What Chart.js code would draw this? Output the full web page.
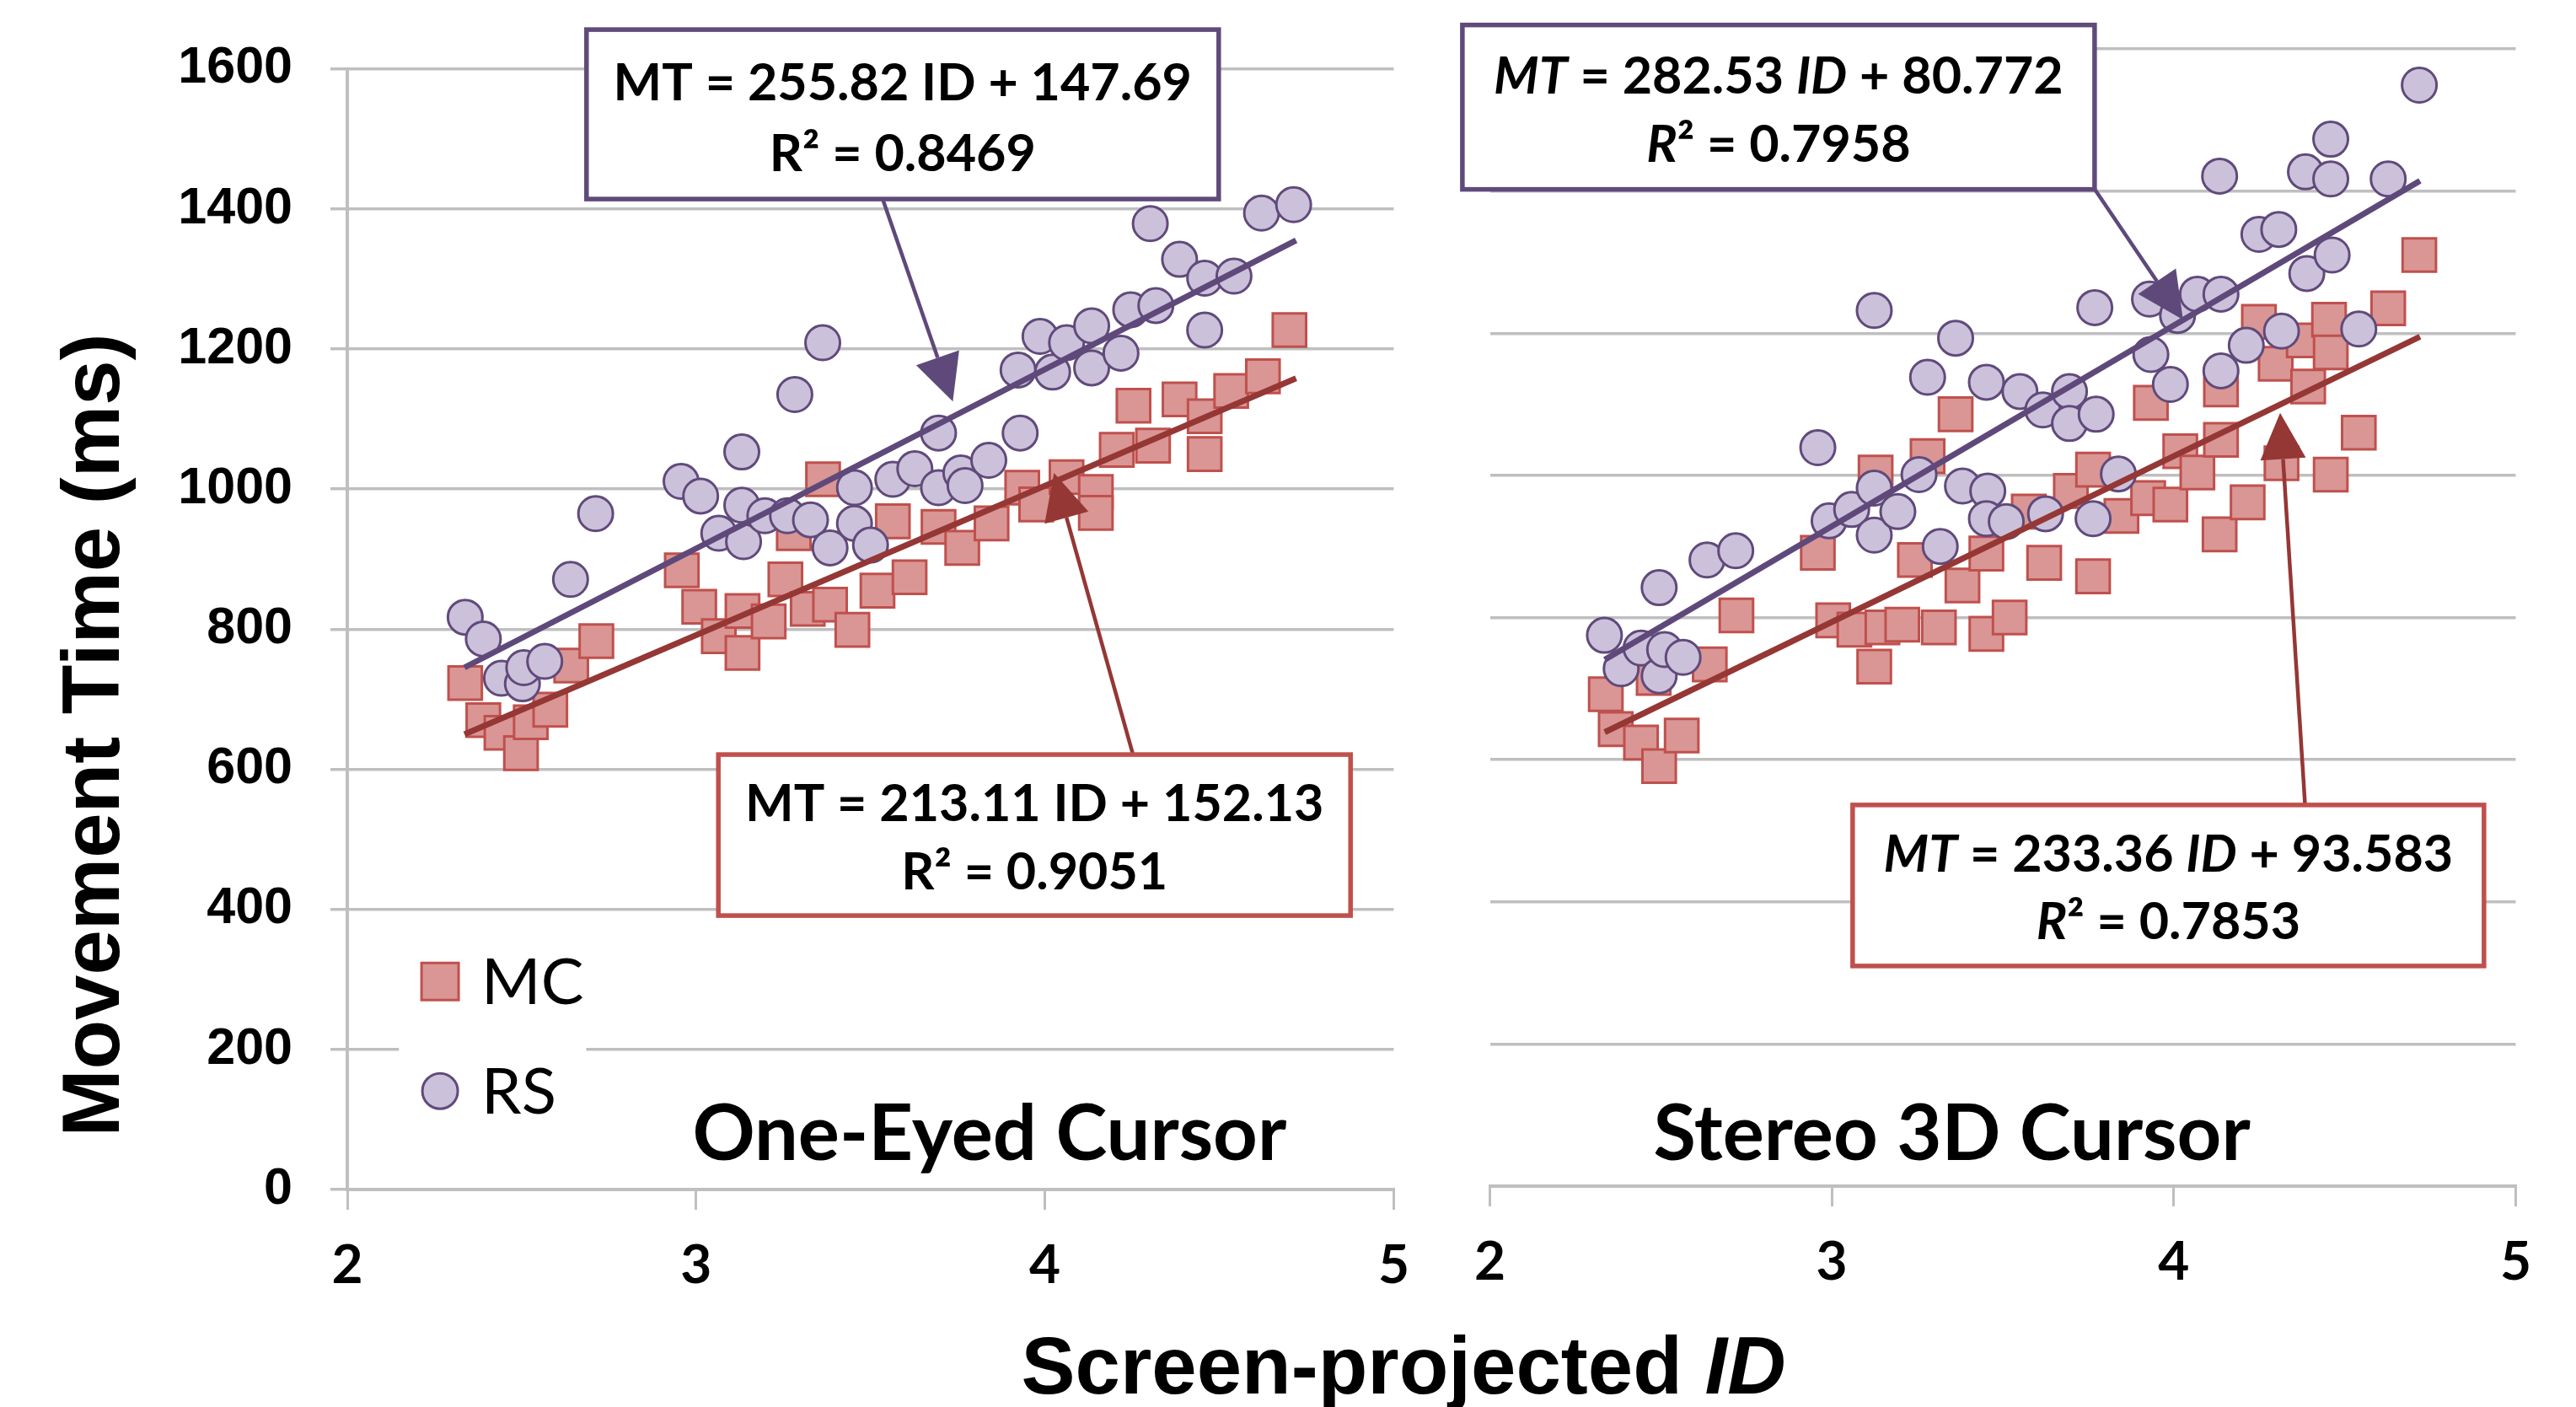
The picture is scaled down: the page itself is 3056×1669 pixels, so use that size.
<!DOCTYPE html>
<html>
<head>
<meta charset="utf-8">
<title>Movement time vs screen-projected ID</title>
<script src="https://cdn.jsdelivr.net/npm/chart.js@4.4.1/dist/chart.umd.min.js"></script>
<style>
    body { margin: 0; background: #fff; }
    #page { position: relative; width: 3056px; height: 1669px; overflow: hidden; background: #fff; }
    canvas { position: absolute; top: 0; }
    #left-chart { left: 0; }
    #right-chart { left: 1700px; }
    .axis-title {
        position: absolute;
        font-family: 'Liberation Sans', Arial, sans-serif;
        font-weight: bold;
        font-size: 96px;
        line-height: 96px;
        color: #000;
        white-space: nowrap;
        text-align: center;
    }
    #y-title { left: 108px; top: 872px; width: 1200px; transform: translate(-50%, -50%) rotate(-90deg); }
    #x-title { left: 665px; top: 1572px; width: 2000px; }
</style>
</head>
<body>
<div id="page">
    <canvas id="left-chart" width="1700" height="1669"></canvas>
    <canvas id="right-chart" width="1356" height="1669"></canvas>
    <div class="axis-title" id="y-title">Movement Time (ms)</div>
    <div class="axis-title" id="x-title">Screen-projected <i>ID</i></div>
</div>
<script>
// tick values
const idTicks = [2, 3, 4, 5];
const mtTicks = [0, 200, 400, 600, 800, 1000, 1200, 1400, 1600];

const panelTitles = ['One-Eyed Cursor', 'Stereo 3D Cursor'];
const seriesNames = ['MC', 'RS'];

// [ID, movement time ms]
const oneEyedMC = [
    [2.338, 723], [2.390, 670], [2.442, 652], [2.498, 623], [2.526, 667], [2.582, 685],
    [2.642, 748], [2.714, 783], [2.959, 884], [3.009, 832], [3.065, 790], [3.133, 826],
    [3.133, 766], [3.208, 811], [3.256, 871], [3.280, 937], [3.320, 829], [3.364, 1014],
    [3.384, 835], [3.448, 799], [3.520, 855], [3.564, 954], [3.612, 874], [3.695, 946],
    [3.763, 916], [3.847, 951], [3.935, 1002], [3.975, 978], [4.062, 1017], [4.146, 996],
    [4.146, 966], [4.206, 1056], [4.254, 1119], [4.310, 1062], [4.386, 1128], [4.458, 1104],
    [4.458, 1050], [4.534, 1140], [4.625, 1161], [4.701, 1227]
];
const oneEyedRS = [
    [2.338, 817], [2.390, 786], [2.442, 730], [2.502, 722], [2.506, 745], [2.566, 754],
    [2.640, 871], [2.712, 965], [2.957, 1011], [3.013, 990], [3.065, 937], [3.131, 1053],
    [3.131, 977], [3.136, 925], [3.197, 962], [3.262, 962], [3.283, 1135], [3.328, 956],
    [3.363, 1209], [3.384, 916], [3.454, 1002], [3.454, 951], [3.500, 920], [3.564, 1014],
    [3.627, 1029], [3.695, 1080], [3.695, 1002], [3.759, 1023], [3.771, 1005], [3.839, 1041],
    [3.929, 1080], [3.923, 1170], [3.986, 1218], [4.022, 1167], [4.062, 1209], [4.134, 1233],
    [4.134, 1173], [4.218, 1194], [4.246, 1256], [4.318, 1262], [4.302, 1379], [4.386, 1328],
    [4.458, 1301], [4.458, 1227], [4.542, 1304], [4.621, 1394], [4.713, 1406]
];
const stereoMC = [
    [2.339, 692], [2.368, 643], [2.442, 624], [2.495, 591], [2.561, 634], [2.479, 715],
    [2.643, 734], [2.721, 803], [2.959, 891], [3.004, 796], [3.066, 783], [3.124, 731],
    [3.128, 1004], [3.148, 786], [3.206, 790], [3.243, 881], [3.280, 1027], [3.313, 786],
    [3.362, 1086], [3.382, 845], [3.452, 777], [3.452, 890], [3.520, 800], [3.576, 949],
    [3.621, 877], [3.764, 858], [3.699, 978], [3.764, 1008], [3.847, 943], [3.925, 968],
    [3.990, 959], [3.933, 1102], [4.019, 1034], [4.069, 1004], [4.134, 917], [4.138, 1121],
    [4.138, 1050], [4.216, 962], [4.249, 1216], [4.298, 1157], [4.315, 1017], [4.380, 1190],
    [4.393, 1125], [4.454, 1219], [4.459, 1173], [4.459, 1001], [4.541, 1060], [4.627, 1235],
    [4.718, 1310]
];
const stereoRS = [
    [2.335, 775], [2.384, 728], [2.442, 757], [2.495, 718], [2.511, 755], [2.565, 744],
    [2.495, 842], [2.635, 881], [2.719, 894], [2.959, 1039], [2.992, 936], [3.058, 952],
    [3.124, 1232], [3.124, 982], [3.124, 916], [3.193, 949], [3.255, 1001], [3.280, 1138],
    [3.317, 900], [3.362, 1193], [3.382, 985], [3.452, 1131], [3.456, 978], [3.452, 939],
    [3.510, 935], [3.550, 1118], [3.617, 1092], [3.625, 946], [3.695, 1118], [3.695, 1073],
    [3.764, 939], [3.773, 1086], [3.769, 1236], [3.838, 1002], [3.929, 1248], [3.933, 1170],
    [3.990, 1128], [4.011, 1225], [4.069, 1255], [4.138, 1255], [4.134, 1421], [4.138, 1147],
    [4.212, 1183], [4.249, 1339], [4.307, 1346], [4.315, 1203], [4.385, 1427], [4.389, 1284],
    [4.459, 1473], [4.459, 1417], [4.463, 1310], [4.541, 1206], [4.627, 1417], [4.718, 1549]
];

// trend lines as printed: [slope, intercept, R squared]
const oneEyedMCFit = [213.11, 152.13, 0.9051];
const oneEyedRSFit = [255.82, 147.69, 0.8469];
const stereoMCFit = [233.36, 93.583, 0.7853];
const stereoRSFit = [282.53, 80.772, 0.7958];
const fitRange = [2.336, 4.72];

const MC_FILL = '#D99694', MC_EDGE = '#C0504D', MC_LINE = '#953735';
const RS_FILL = '#CCC1DA', RS_EDGE = '#604A7B', RS_LINE = '#5F497A';
const GRID = '#BFBFBF';

function toPoints(pairs) {
    return pairs.map(p => ({ x: p[0], y: p[1] }));
}

function trend(fit) {
    return fitRange.map(x => ({ x: x, y: fit[0] * x + fit[1] }));
}

function eqLines(fit, it) {
    return [
        [{ t: 'MT', i: it }, { t: ' = ' + fit[0] + ' ' }, { t: 'ID', i: it }, { t: ' + ' + fit[1] }],
        [{ t: 'R', i: it }, { t: '\u00B2 = ' + fit[2] }]
    ];
}

function buildDatasets(mc, rs, mcFit, rsFit) {
    return [
        { type: 'line', label: 'RS trend', data: trend(rsFit), borderColor: RS_LINE, borderWidth: 7,
          pointRadius: 0, showLine: true, fill: false, order: 0 },
        { type: 'line', label: 'MC trend', data: trend(mcFit), borderColor: MC_LINE, borderWidth: 7,
          pointRadius: 0, showLine: true, fill: false, order: 1 },
        { label: seriesNames[1], data: toPoints(rs), pointStyle: 'circle', pointRadius: 20.5,
          backgroundColor: RS_FILL, borderColor: RS_EDGE, pointBackgroundColor: RS_FILL,
          pointBorderColor: RS_EDGE, pointBorderWidth: 3, order: 2 },
        { label: seriesNames[0], data: toPoints(mc), pointStyle: 'rect', pointRadius: 28,
          backgroundColor: MC_FILL, borderColor: MC_EDGE, pointBackgroundColor: MC_FILL,
          pointBorderColor: MC_EDGE, pointBorderWidth: 3, order: 3 }
    ];
}

function drawRuns(ctx, runs, cx, baseline, size) {
    const fontFor = r => (r.i ? 'italic ' : '') + 'bold ' + size + 'px Lato, sans-serif';
    let total = 0;
    runs.forEach(r => { ctx.font = fontFor(r); total += ctx.measureText(r.t).width; });
    let x = cx - total / 2;
    ctx.textAlign = 'left';
    ctx.textBaseline = 'alphabetic';
    runs.forEach(r => {
        ctx.font = fontFor(r);
        ctx.fillText(r.t, x, baseline);
        x += ctx.measureText(r.t).width;
    });
}

function drawArrow(ctx, x0, y0, x1, y1, color) {
    const ang = Math.atan2(y1 - y0, x1 - x0);
    const len = 55, half = 27;
    const bx = x1 - len * Math.cos(ang), by = y1 - len * Math.sin(ang);
    ctx.strokeStyle = color;
    ctx.lineWidth = 4.5;
    ctx.beginPath();
    ctx.moveTo(x0, y0);
    ctx.lineTo(bx, by);
    ctx.stroke();
    ctx.fillStyle = color;
    ctx.beginPath();
    ctx.moveTo(x1, y1);
    ctx.lineTo(bx + half * Math.sin(ang), by - half * Math.cos(ang));
    ctx.lineTo(bx - half * Math.sin(ang), by + half * Math.cos(ang));
    ctx.closePath();
    ctx.fill();
}

// panel title, legend and the equation call-outs
const notesPlugin = {
    id: 'notes',
    afterDraw(chart, args, opts) {
        const ctx = chart.ctx;
        const px = v => chart.scales.x.getPixelForValue(v);
        const py = v => chart.scales.y.getPixelForValue(v);
        ctx.save();

        if (opts.title) {
            ctx.fillStyle = '#000';
            ctx.font = 'bold 92px Lato, sans-serif';
            ctx.textAlign = 'center';
            ctx.textBaseline = 'alphabetic';
            ctx.fillText(opts.title.text, px(opts.title.at[0]), py(opts.title.at[1]));
        }

        if (opts.legend) {
            const lg = opts.legend;
            const bx0 = px(lg.box[0]), by0 = py(lg.box[1]);
            ctx.fillStyle = '#fff';
            ctx.fillRect(bx0, by0, px(lg.box[2]) - bx0, py(lg.box[3]) - by0);
            const mx = px(lg.at[0]);
            let my = py(lg.at[1]);
            seriesNames.forEach(name => {
                const ds = chart.data.datasets.find(d => d.label === name);
                ctx.fillStyle = ds.pointBackgroundColor;
                ctx.strokeStyle = ds.pointBorderColor;
                ctx.lineWidth = 3;
                ctx.beginPath();
                if (ds.pointStyle === 'rect') ctx.rect(mx - 22, my - 22, 44, 44);
                else ctx.arc(mx, my, 21, 0, Math.PI * 2);
                ctx.fill();
                ctx.stroke();
                ctx.fillStyle = '#000';
                ctx.font = '76px Lato, sans-serif';
                ctx.textAlign = 'left';
                ctx.textBaseline = 'alphabetic';
                ctx.fillText(name, mx + 49, my + 27);
                my += lg.step;
            });
        }

        (opts.boxes || []).forEach(b => {
            drawArrow(ctx, px(b.from[0]), py(b.from[1]), px(b.to[0]), py(b.to[1]), b.arrow);
            const cx = px(b.at[0]), cy = py(b.at[1]);
            const x0 = cx - b.w / 2, y0 = cy - b.h / 2;
            ctx.fillStyle = '#fff';
            ctx.fillRect(x0, y0, b.w, b.h);
            ctx.strokeStyle = b.edge;
            ctx.lineWidth = 5.5;
            ctx.strokeRect(x0, y0, b.w, b.h);
            ctx.fillStyle = '#000';
            drawRuns(ctx, b.lines[0], cx, y0 + b.h * 0.415, 61);
            drawRuns(ctx, b.lines[1], cx, y0 + b.h * 0.835, 61);
        });

        ctx.restore();
    }
};

function makeChart(canvasId, datasets, side, notes) {
    const left = side === 'left';
    return new Chart(document.getElementById(canvasId), {
        type: 'scatter',
        data: { datasets: datasets },
        options: {
            responsive: false,
            animation: false,
            devicePixelRatio: 1,
            events: [],
            layout: {
                autoPadding: false,
                padding: left ? { top: 75, right: 35, bottom: 0, left: 0 }
                              : { top: 58, right: 71.5, bottom: 0, left: 0 }
            },
            plugins: { legend: { display: false }, tooltip: { enabled: false }, notes: notes },
            scales: {
                x: {
                    type: 'linear',
                    min: idTicks[0],
                    max: idTicks[idTicks.length - 1],
                    afterBuildTicks: s => { s.ticks = idTicks.map(v => ({ value: v })); },
                    grid: { drawOnChartArea: false, drawTicks: true, tickLength: 24, color: GRID, lineWidth: 3 },
                    border: { display: true, color: GRID, width: 4 },
                    ticks: {
                        color: '#000', padding: 28, maxRotation: 0,
                        font: { family: 'Lato', weight: 'bold', size: 64 },
                        callback: v => String(v)
                    },
                    afterFit: s => { s.height = left ? 258 : 262; }
                },
                y: {
                    type: 'linear',
                    min: mtTicks[0],
                    max: mtTicks[mtTicks.length - 1],
                    afterBuildTicks: s => { s.ticks = mtTicks.map(v => ({ value: v })); },
                    grid: { color: GRID, lineWidth: 3.5, drawTicks: left, tickLength: 20 },
                    border: { display: left, color: GRID, width: 4 },
                    ticks: {
                        display: left, color: '#000', padding: 45,
                        font: { family: 'Liberation Sans', weight: 'bold', size: 61 },
                        callback: v => String(v)
                    },
                    afterFit: s => { s.width = left ? 412 : 67.5; }
                }
            }
        },
        plugins: [notesPlugin]
    });
}

makeChart('left-chart', buildDatasets(oneEyedMC, oneEyedRS, oneEyedMCFit, oneEyedRSFit), 'left', {
    title: { text: panelTitles[0], at: [3.841, 42] },
    legend: { at: [2.266, 297], step: 130, box: [2.148, 354, 2.685, 85] },
    boxes: [
        { at: [3.592, 1535], w: 750, h: 201, edge: RS_EDGE, arrow: RS_LINE,
          from: [3.535, 1414], to: [3.736, 1125], lines: eqLines(oneEyedRSFit, false) },
        { at: [3.970, 506], w: 750, h: 191, edge: MC_EDGE, arrow: MC_LINE,
          from: [4.253, 620], to: [4.026, 1023], lines: eqLines(oneEyedMCFit, false) }
    ]
});

makeChart('right-chart', buildDatasets(stereoMC, stereoRS, stereoMCFit, stereoRSFit), 'right', {
    title: { text: panelTitles[1], at: [3.351, 37] },
    boxes: [
        { at: [2.844, 1518], w: 750, h: 195, edge: RS_EDGE, arrow: RS_LINE,
          from: [3.768, 1403], to: [4.027, 1219], lines: eqLines(stereoRSFit, true) },
        { at: [3.984, 423], w: 749, h: 191, edge: MC_EDGE, arrow: MC_LINE,
          from: [4.384, 536], to: [4.311, 1088], lines: eqLines(stereoMCFit, true) }
    ]
});
</script>
</body>
</html>
